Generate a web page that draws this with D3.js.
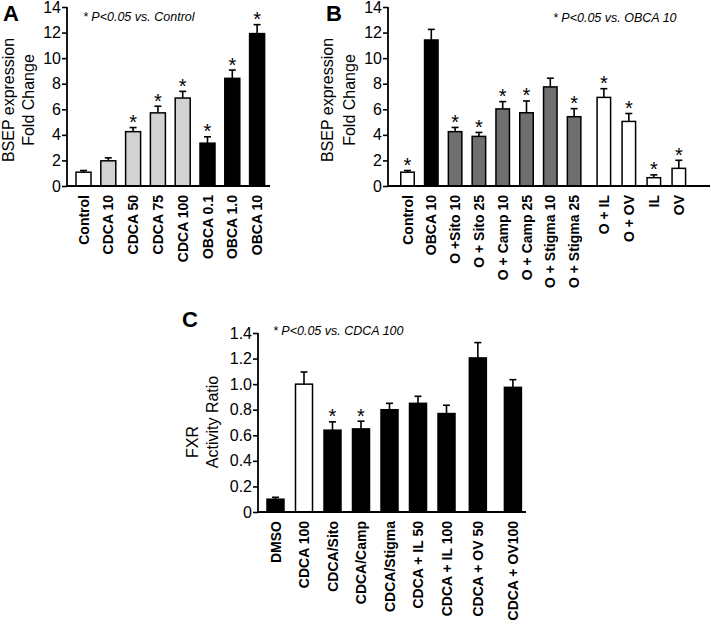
<!DOCTYPE html>
<html>
<head>
<meta charset="utf-8">
<script src="https://cdn.jsdelivr.net/npm/d3@7"></script>
<style>
  html, body { margin: 0; padding: 0; background: #fff; }
  svg { display: block; font-family: "Liberation Sans", Arial, sans-serif; }
</style>
</head>
<body>
<svg id="chart" width="711" height="628"></svg>
<script>
// ---------------- DATA ----------------
const aCategories = ["Control", "CDCA 10", "CDCA 50", "CDCA 75", "CDCA 100", "OBCA 0.1", "OBCA 1.0", "OBCA 10"];
const aValues     = [1.08, 1.97, 4.25, 5.72, 6.88, 3.35, 8.42, 11.92];
const aErrors     = [0.13, 0.23, 0.32, 0.52, 0.52, 0.50, 0.65, 0.70];
const aStars      = [false, false, true, true, true, true, true, true];
const aGroups     = ["white", "light", "light", "light", "light", "black", "black", "black"];

const bCategories = ["Control", "OBCA 10", "O +Sito 10", "O + Sito 25", "O + Camp 10", "O + Camp 25",
                     "O + Stigma 10", "O + Stigma 25", "O + IL", "O + OV", "IL", "OV"];
const bValues     = [1.08, 11.42, 4.25, 3.88, 6.03, 5.73, 7.75, 5.42, 6.93, 5.05, 0.65, 1.38];
const bErrors     = [0.13, 0.83, 0.33, 0.31, 0.57, 0.92, 0.68, 0.63, 0.68, 0.62, 0.22, 0.63];
const bStars      = [true, false, true, true, true, true, false, true, true, true, true, true];
const bGroups     = ["white", "black", "dark", "dark", "dark", "dark", "dark", "dark", "white", "white", "white", "white"];

const cCategories = ["DMSO", "CDCA 100", "CDCA/Sito", "CDCA/Camp", "CDCA/Stigma", "CDCA + IL 50",
                     "CDCA + IL 100", "CDCA + OV 50", "CDCA + OV100"];
const cValues     = [0.10, 1.00, 0.64, 0.65, 0.80, 0.85, 0.77, 1.205, 0.975];
const cErrors     = [0.015, 0.095, 0.065, 0.06, 0.05, 0.055, 0.065, 0.12, 0.06];
const cStars      = [false, false, true, true, false, false, false, false, false];
const cGroups     = ["black", "white", "black", "black", "black", "black", "black", "black", "black"];

const abTicks = [0, 2, 4, 6, 8, 10, 12, 14];
const abTickLabels = ["0", "2", "4", "6", "8", "10", "12", "14"];
const cTicks = [0, 0.2, 0.4, 0.6, 0.8, 1.0, 1.2, 1.4];
const cTickLabels = ["0", "0.2", "0.4", "0.6", "0.8", "1.0", "1.2", "1.4"];

// ---------------- STYLE ----------------
const fills = { white: "#ffffff", light: "#d2d2d2", dark: "#6f6f6f", black: "#000000" };
const svg = d3.select("#chart");

function drawPanel(cfg) {
  const g = svg.append("g");
  const y = d3.scaleLinear().domain([0, cfg.yMax]).range([cfg.y0, cfg.yTop]);
  const slot = i => i + (cfg.gap ? cfg.gap(i) : 0);
  const x = d3.scaleLinear().domain([0, 1]).range([cfg.c0, cfg.c0 + cfg.step]);
  const cx = i => x(slot(i));

  // bars
  g.selectAll("rect.bar").data(cfg.values).join("rect")
    .attr("class", "bar")
    .attr("x", (d, i) => cx(i) - cfg.barW / 2)
    .attr("y", d => y(d))
    .attr("width", cfg.barW)
    .attr("height", d => cfg.y0 - y(d))
    .attr("fill", (d, i) => fills[cfg.groups[i]])
    .attr("stroke", "#000")
    .attr("stroke-width", 1.5);

  // error bars
  cfg.values.forEach((v, i) => {
    const top = y(v + cfg.errors[i]);
    g.append("line").attr("x1", cx(i)).attr("x2", cx(i))
      .attr("y1", y(v)).attr("y2", top)
      .attr("stroke", "#000").attr("stroke-width", 1.6);
    g.append("line").attr("x1", cx(i) - 3.5).attr("x2", cx(i) + 3.5)
      .attr("y1", top).attr("y2", top)
      .attr("stroke", "#000").attr("stroke-width", 1.6);
    if (cfg.stars[i]) {
      g.append("text").attr("x", cx(i)).attr("y", top + 1.5)
        .attr("text-anchor", "middle")
        .attr("font-size", 20).text("*");
    }
  });

  // y axis
  const axis = d3.axisLeft(y).tickValues(cfg.ticks).tickSize(5).tickPadding(1)
    .tickFormat((d, i) => cfg.tickLabels[i]);
  const ag = g.append("g").attr("transform", `translate(${cfg.x0},0)`).call(axis);
  ag.select(".domain").remove();
  ag.selectAll(".tick line").attr("stroke", "#000").attr("stroke-width", 1.6);
  ag.selectAll(".tick text").attr("font-size", 16).attr("fill", "#000")
    .attr("font-family", "Liberation Sans, Arial, sans-serif");
  g.append("line").attr("x1", cfg.x0).attr("x2", cfg.x0)
    .attr("y1", cfg.yTop).attr("y2", cfg.y0)
    .attr("stroke", "#000").attr("stroke-width", 1.8);
  // x axis line
  g.append("line").attr("x1", cfg.x0).attr("x2", cfg.x1)
    .attr("y1", cfg.y0).attr("y2", cfg.y0)
    .attr("stroke", "#000").attr("stroke-width", 1.8);

  // x labels
  cfg.categories.forEach((c, i) => {
    g.append("text")
      .attr("transform", `translate(${cx(i) + 5},${cfg.y0 + 9}) rotate(-90)`)
      .attr("text-anchor", "end")
      .attr("font-size", 14).attr("font-weight", "bold")
      .text(c);
  });

  // y title lines
  cfg.yTitles.forEach(t => {
    g.append("text")
      .attr("transform", `translate(${t.x},${t.y}) rotate(-90)`)
      .attr("text-anchor", "middle")
      .attr("font-size", 16)
      .text(t.text);
  });

  // annotation
  g.append("text").attr("x", cfg.note.x).attr("y", cfg.note.y)
    .attr("font-size", 12.5).attr("font-style", "italic")
    .text(cfg.note.text);

  // panel letter
  g.append("text").attr("x", cfg.letter.x).attr("y", cfg.letter.y)
    .attr("font-size", 22).attr("font-weight", "bold")
    .text(cfg.letter.text);
}

drawPanel({
  categories: aCategories, values: aValues, errors: aErrors, stars: aStars, groups: aGroups,
  ticks: abTicks, tickLabels: abTickLabels, yMax: 14,
  x0: 67, x1: 270, y0: 186, yTop: 7,
  c0: 83.5, step: 24.8, barW: 15,
  yTitles: [{ text: "BSEP expression", x: 14, y: 100 }, { text: "Fold Change", x: 34, y: 100 }],
  note: { text: "* P<0.05 vs. Control", x: 83, y: 21 },
  letter: { text: "A", x: 3, y: 21 }
});

drawPanel({
  categories: bCategories, values: bValues, errors: bErrors, stars: bStars, groups: bGroups,
  ticks: abTicks, tickLabels: abTickLabels, yMax: 14,
  x0: 388, x1: 710, y0: 186, yTop: 7,
  c0: 407.5, step: 23.8, barW: 13.5,
  gap: i => (i >= 8 ? 0.25 + (i - 8) * 0.05 : 0),
  yTitles: [{ text: "BSEP expression", x: 333, y: 100 }, { text: "Fold Change", x: 355, y: 100 }],
  note: { text: "* P<0.05 vs. OBCA 10", x: 553, y: 22 },
  letter: { text: "B", x: 326, y: 21 }
});

drawPanel({
  categories: cCategories, values: cValues, errors: cErrors, stars: cStars, groups: cGroups,
  ticks: cTicks, tickLabels: cTickLabels, yMax: 1.4,
  x0: 258, x1: 526, y0: 512, yTop: 333,
  c0: 275.5, step: 28.5, barW: 17,
  gap: i => (i === 7 ? 0.1 : i === 8 ? 0.33 : 0),
  yTitles: [{ text: "FXR", x: 198, y: 442 }, { text: "Activity Ratio", x: 218, y: 422 }],
  note: { text: "* P<0.05 vs. CDCA 100", x: 273, y: 335 },
  letter: { text: "C", x: 182, y: 327 }
});
</script>
</body>
</html>
